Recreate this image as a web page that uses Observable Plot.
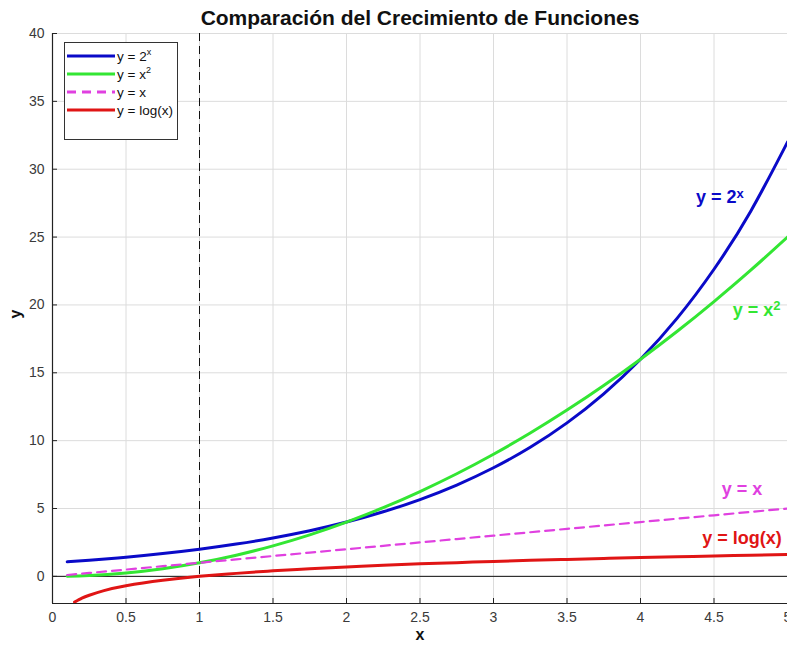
<!DOCTYPE html>
<html><head><meta charset="utf-8">
<script src="https://cdn.jsdelivr.net/npm/d3@7"></script>
<script src="https://cdn.jsdelivr.net/npm/@observablehq/plot@0.6"></script>
<style>
body{margin:0;background:#fff;font-family:"Liberation Sans",Arial,sans-serif}
#wrap{position:relative;width:787px;height:648px}
#legend{position:absolute;left:64px;top:42px;width:114px;height:98px;border:1px solid #333;background:#fff;font-size:13.5px;color:#111;box-sizing:border-box}
.row{position:absolute;left:1px;height:16px;display:flex;align-items:center;white-space:nowrap}
.row svg{margin-right:1px}
sup{font-size:9px;vertical-align:6px;line-height:0}
</style>
</head><body>
<div id="wrap"></div>
<script>
// ---- data ----
const xValues = [0.1,0.25,0.5,0.75,1,1.25,1.5,1.75,2,2.25,2.5,2.75,3,3.25,3.5,3.75,4,4.25,4.5,4.75,5];
const pow2Values = [1.07,1.19,1.41,1.68,2,2.38,2.83,3.36,4,4.76,5.66,6.73,8,9.51,11.31,13.45,16,19.03,22.63,26.91,32];
const squareValues = [0.01,0.06,0.25,0.56,1,1.56,2.25,3.06,4,5.06,6.25,7.56,9,10.56,12.25,14.06,16,18.06,20.25,22.56,25];
const identityValues = [0.1,0.25,0.5,0.75,1,1.25,1.5,1.75,2,2.25,2.5,2.75,3,3.25,3.5,3.75,4,4.25,4.5,4.75,5];
const logXValues = [0.15,0.2,0.25,0.35,0.5,0.75,1,1.25,1.5,1.75,2,2.25,2.5,2.75,3,3.25,3.5,3.75,4,4.25,4.5,4.75,5];
const logValues = [-1.9,-1.61,-1.39,-1.05,-0.69,-0.29,0,0.22,0.41,0.56,0.69,0.81,0.92,1.01,1.1,1.18,1.25,1.32,1.39,1.45,1.5,1.56,1.61];

const seriesNames = ["y = 2^x","y = x^2","y = x","y = log(x)"];
const legendHtml = ["y = 2<sup>x</sup>","y = x<sup>2</sup>","y = x","y = log(x)"];
const seriesColors = ["#0a0ac8","#33e633","#e040e0","#e01515"];

const labelBase = ["y = 2","y = x","y = x","y = log(x)"];
const labelSup = ["x","2","",""];
const labelX = [4.54,4.79,4.69,4.69];
const labelY = [27.9,19.6,6.4,2.8];

const xTicks = [0,0.5,1,1.5,2,2.5,3,3.5,4,4.5,5];
const yTicks = [0,5,10,15,20,25,30,35,40];
const titleText = "Comparación del Crecimiento de Funciones";

// ---- build ----
const pts = (xs, ys) => xs.map((x,i)=>({x, y: ys[i]}));
const series = [pts(xValues,pow2Values), pts(xValues,squareValues), pts(xValues,identityValues), pts(logXValues,logValues)];
const labels = labelBase.map((t,i)=>({t: t + labelSup[i], base: t, sup: labelSup[i], x:labelX[i], y:labelY[i], c:seriesColors[i]}));

const plot = Plot.plot({
  width: 787, height: 648,
  marginLeft: 52, marginRight: 0, marginTop: 33, marginBottom: 45,
  style: {fontFamily: "'Liberation Sans', Arial, sans-serif", background: "#fff", overflow: "visible"},
  x: {domain: [0,5]},
  y: {domain: [-2,40]},
  marks: [
    Plot.gridX(xTicks, {stroke: "#dcdcdc", strokeOpacity: 1}),
    Plot.gridY(yTicks, {stroke: "#dcdcdc", strokeOpacity: 1}),
    Plot.ruleY([0], {stroke: "#111", strokeWidth: 1}),
    Plot.ruleX([1], {stroke: "#111", strokeWidth: 1, strokeDasharray: "8,5"}),
    Plot.line(series[0], {x:"x", y:"y", stroke: seriesColors[0], strokeWidth: 3, curve: "natural"}),
    Plot.line(series[1], {x:"x", y:"y", stroke: seriesColors[1], strokeWidth: 3, curve: "natural"}),
    Plot.line(series[2], {x:"x", y:"y", stroke: seriesColors[2], strokeWidth: 2.2, strokeDasharray: "9,6"}),
    Plot.line(series[3], {x:"x", y:"y", stroke: seriesColors[3], strokeWidth: 3, curve: "natural"}),
    Plot.ruleX([0], {stroke: "#222", strokeWidth: 1.2}),
    Plot.ruleY([-2], {stroke: "#222", strokeWidth: 1.2}),
    Plot.axisX(xTicks, {tickSize: -5, tickPadding: 14, tickFormat: d => String(d), fontSize: 14, color: "#3a3a3a", stroke: "#222", label: null}),
    Plot.axisY(yTicks, {tickSize: -5, tickPadding: 13, tickFormat: d => String(d), fontSize: 14, color: "#3a3a3a", stroke: "#222", label: null}),
    Plot.text(labels, {x:"x", y:"y", text:"t", fill:"c", fontSize: 18, fontWeight: "bold", className: "fn-label"}),
    Plot.text([titleText], {frameAnchor: "top", dy: -23, fontSize: 21, fontWeight: "bold", fill: "#111"}),
    Plot.text(["x"], {frameAnchor: "bottom", dy: 36, fontSize: 16, fontWeight: "bold", fill: "#111"}),
    Plot.text(["y"], {frameAnchor: "left", dx: -37, rotate: -90, fontSize: 16, fontWeight: "bold", fill: "#111"})
  ]
});
// superscripts in the curve labels
d3.select(plot).selectAll("g.fn-label text").each(function(_, i) {
  const L = labels[i];
  const t = d3.select(this);
  t.text(L.base);
  if (L.sup) t.append("tspan").attr("dy", "-0.45em").attr("font-size", "13px").text(L.sup);
});
const wrap = document.getElementById("wrap");
wrap.appendChild(plot);

const legend = document.createElement("div");
legend.id = "legend";
seriesNames.forEach((name,i)=>{
  const row = document.createElement("div");
  row.className = "row";
  row.style.top = (5 + i*18) + "px";
  const dash = i === 2 ? 'stroke-dasharray="9,6"' : '';
  row.innerHTML = `<svg width="50" height="6"><line x1="1" x2="49" y1="3" y2="3" stroke="${seriesColors[i]}" stroke-width="3" ${dash}/></svg><span>${legendHtml[i]}</span>`;
  row.title = name;
  legend.appendChild(row);
});
wrap.appendChild(legend);
</script>
</body></html>
